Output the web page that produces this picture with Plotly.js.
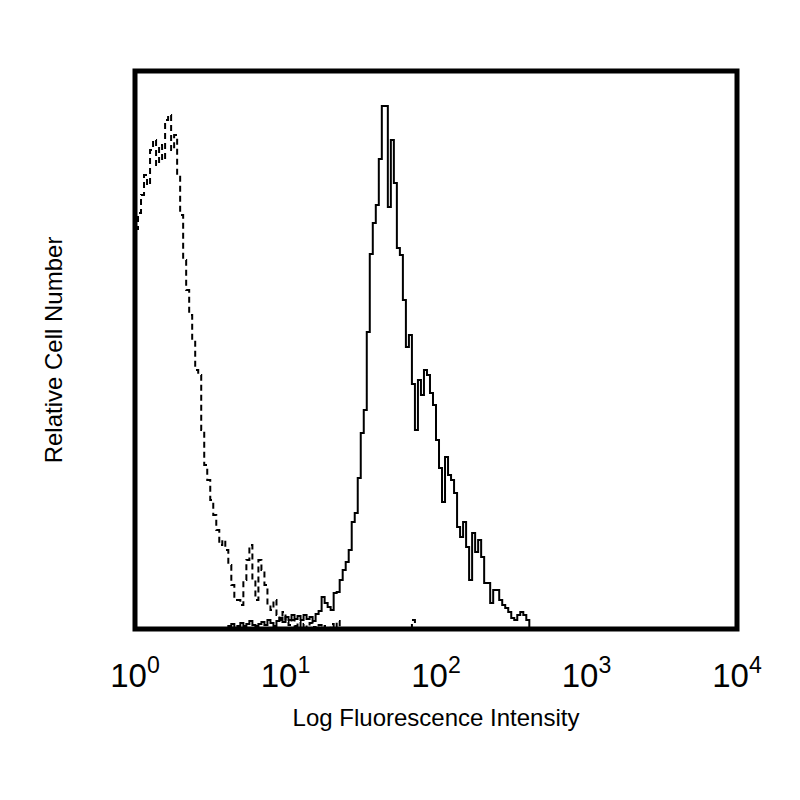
<!DOCTYPE html>
<html>
<head>
<meta charset="utf-8">
<script src="https://cdn.plot.ly/plotly-3.0.1.min.js"></script>
<style>
  html, body { margin: 0; padding: 0; background: #fff; }
  #chart { width: 800px; height: 800px; }
</style>
</head>
<body>
<div id="chart"></div>
<script>
// histogram channels are given as log10 of the fluorescence intensity
const controlLog = [0.00, 0.02, 0.04, 0.06, 0.08, 0.10, 0.12, 0.14, 0.16, 0.18,
  0.20, 0.22, 0.24, 0.26, 0.28, 0.30, 0.32, 0.34, 0.36, 0.38,
  0.40, 0.42, 0.44, 0.46, 0.48, 0.50, 0.52, 0.54, 0.56, 0.58,
  0.60, 0.62, 0.64, 0.66, 0.68, 0.70, 0.72, 0.74, 0.76, 0.78,
  0.80, 0.82, 0.84, 0.86, 0.88, 0.90, 0.92, 0.94, 0.96, 0.98,
  1.00, 1.02, 1.04, 1.06, 1.08, 1.10, 1.12, 1.14, 1.16, 1.18,
  1.20, 1.22, 1.24, 1.26, 1.28, 1.30, 1.32, 1.34, 1.36, 1.82,
  1.84, 1.86];
const controlCount = [400, 416, 434, 454, 444, 479, 489, 464, 484, 469,
  509, 514, 479, 494, 454, 414, 369, 339, 314, 289,
  259, 254, 199, 164, 149, 129, 114, 99, 84, 89,
  79, 64, 44, 29, 29, 24, 49, 69, 84, 49,
  29, 69, 59, 44, 24, 19, 29, 14, 9, 17,
  7, 4, 9, 3, 7, 0, 5, 0, 6, 2,
  0, 4, 0, 3, 0, 5, 0, 8, 0, 0,
  9, 0];

const stainedLog = [0.48, 0.50, 0.52, 0.54, 0.56, 0.58, 0.60, 0.62, 0.64, 0.66,
  0.68, 0.70, 0.72, 0.74, 0.76, 0.78, 0.80, 0.82, 0.84, 0.86,
  0.88, 0.90, 0.92, 0.94, 0.96, 0.98, 1.00, 1.02, 1.04, 1.06,
  1.08, 1.10, 1.12, 1.14, 1.16, 1.18, 1.20, 1.22, 1.24, 1.26,
  1.28, 1.30, 1.32, 1.34, 1.36, 1.38, 1.40, 1.42, 1.44, 1.46,
  1.48, 1.50, 1.52, 1.54, 1.56, 1.58, 1.60, 1.62, 1.64, 1.66,
  1.68, 1.70, 1.72, 1.74, 1.76, 1.78, 1.80, 1.82, 1.84, 1.86,
  1.88, 1.90, 1.92, 1.94, 1.96, 1.98, 2.00, 2.02, 2.04, 2.06,
  2.08, 2.10, 2.12, 2.14, 2.16, 2.18, 2.20, 2.22, 2.24, 2.26,
  2.28, 2.30, 2.32, 2.34, 2.36, 2.38, 2.40, 2.42, 2.44, 2.46,
  2.48, 2.50, 2.52, 2.54, 2.56, 2.58, 2.60, 2.62];
const stainedCount = [0, 0, 0, 0, 0, 0, 0, 3, 5, 0,
  3, 6, 3, 5, 8, 4, 3, 5, 7, 4,
  9, 6, 3, 8, 11, 7, 12, 9, 14, 10,
  13, 9, 14, 10, 12, 8, 15, 18, 32, 26,
  22, 19, 36, 37, 49, 59, 67, 79, 107, 116,
  151, 196, 219, 297, 375, 406, 424, 470, 523, 523,
  422, 489, 446, 381, 374, 329, 282, 294, 245, 199,
  249, 234, 259, 254, 236, 224, 189, 161, 127, 172,
  154, 149, 136, 102, 92, 107, 82, 49, 96, 77,
  89, 72, 46, 46, 26, 39, 39, 29, 24, 21,
  17, 11, 9, 14, 17, 14, 9, 0];

const tickVals = [1, 10, 100, 1000, 10000];
const tickText = ["10<sup>0</sup>", "10<sup>1</sup>", "10<sup>2</sup>", "10<sup>3</sup>", "10<sup>4</sup>"];

const FONT = "Arial, 'Liberation Sans', sans-serif";

const control = {
  type: "scatter",
  mode: "lines",
  x: controlLog.map(v => Math.pow(10, v)),
  y: controlCount,
  line: { shape: "hv", color: "#000", width: 2, dash: "6px,4px" },
  hoverinfo: "skip"
};

const stained = {
  type: "scatter",
  mode: "lines",
  x: stainedLog.map(v => Math.pow(10, v)),
  y: stainedCount,
  line: { shape: "hv", color: "#000", width: 2 },
  hoverinfo: "skip"
};

const layout = {
  width: 800,
  height: 800,
  margin: { l: 135, r: 63, t: 71, b: 171 },
  paper_bgcolor: "#fff",
  plot_bgcolor: "#fff",
  showlegend: false,
  xaxis: {
    type: "log",
    range: [0, 4],
    tickvals: tickVals,
    ticktext: tickText,
    ticks: "outside",
    ticklen: 17,
    tickcolor: "rgba(0,0,0,0)",
    tickfont: { family: FONT, size: 33, color: "#000" },
    showgrid: false,
    zeroline: false,
    showline: false,
    automargin: true,
    title: {
      text: "Log Fluorescence Intensity",
      font: { family: FONT, size: 24, color: "#000" },
      standoff: 16
    }
  },
  yaxis: {
    range: [0, 558],
    showticklabels: false,
    ticks: "",
    showgrid: false,
    zeroline: false,
    showline: false,
    automargin: true,
    title: {
      text: "Relative Cell Number",
      font: { family: FONT, size: 24, color: "#000" },
      standoff: 64
    }
  },
  shapes: [{
    type: "rect",
    xref: "paper", yref: "paper",
    x0: 0, x1: 1, y0: 0, y1: 1,
    line: { color: "#000", width: 5 },
    layer: "above"
  }]
};

Plotly.newPlot("chart", [control, stained], layout, { displayModeBar: false, staticPlot: true });
</script>
</body>
</html>
